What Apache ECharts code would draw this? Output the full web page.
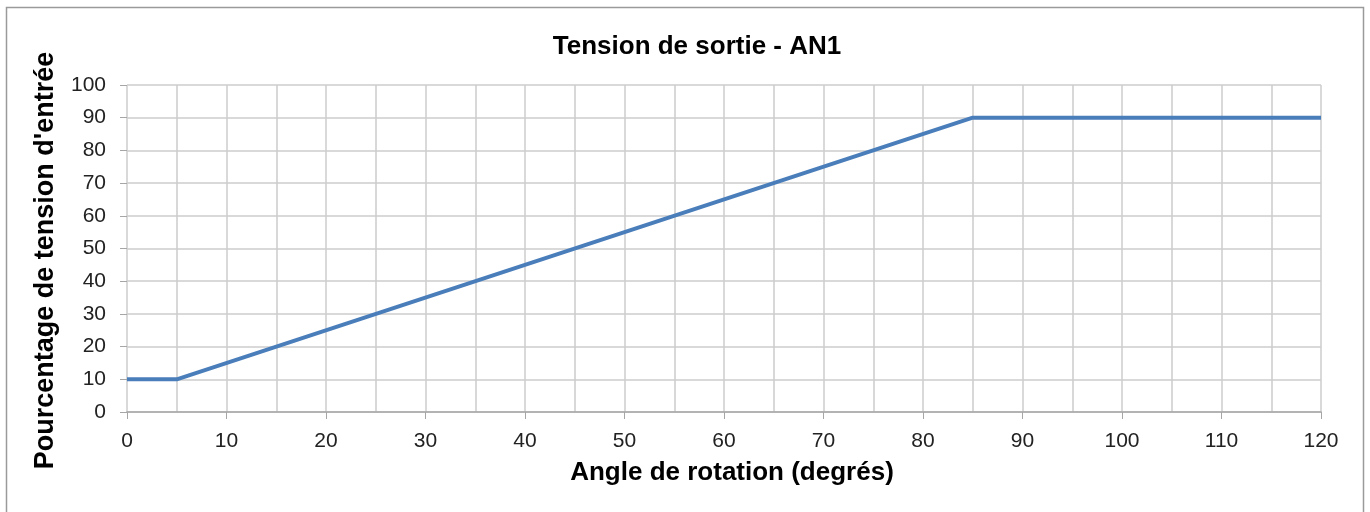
<!DOCTYPE html>
<html><head><meta charset="utf-8">
<script src="https://cdn.jsdelivr.net/npm/echarts@6/dist/echarts.min.js"></script>
<style>html,body{margin:0;padding:0;background:#fff}#c{width:1370px;height:512px}</style>
</head><body><div id="c"></div>
<script>
var angles = [0, 5, 85, 120];
var percents = [10, 10, 90, 90];
var titleText = 'Tension de sortie - AN1';
var xName = 'Angle de rotation (degrés)';
var yName = "Pourcentage de tension d'entrée";

var chart = echarts.init(document.getElementById('c'));
var font = '"Liberation Sans", Arial, sans-serif';
chart.setOption({
  animation: false,
  backgroundColor: '#fff',
  graphic: [{type:'rect', shape:{x:6.5,y:7.5,width:1357,height:520}, style:{fill:'none', stroke:'#9a9a9a', lineWidth:1.5}, silent:true}],
  title: {text: titleText, left: 692, top: 29, textAlign: 'center',
    textStyle:{fontFamily:font, fontSize:26, fontWeight:'bold', color:'#000'}},
  grid: {left:127, right:49, top:85, bottom:100, containLabel:false},
  xAxis: {type:'value', min:0, max:120, interval:10, splitNumber:12,
    name:xName, nameLocation:'middle', nameGap:48,
    nameTextStyle:{fontFamily:font, fontSize:26, fontWeight:'bold', color:'#000', padding:[0,0,0,16]},
    axisLine:{show:true, lineStyle:{color:'#a6a6a6', width:1.5}},
    axisTick:{show:true, length:7, inside:false, lineStyle:{color:'#a6a6a6'}},
    axisLabel:{fontFamily:font, fontSize:21, color:'#222', margin:19},
    splitLine:{show:true, lineStyle:{color:'#cccccc', width:1.5}},
    minorTick:{show:false, splitNumber:2},
    minorSplitLine:{show:true, lineStyle:{color:'#cccccc', width:1.5}}
  },
  yAxis: {type:'value', min:0, max:100, interval:10,
    name:yName, nameLocation:'middle', nameGap:68,
    nameTextStyle:{fontFamily:font, fontSize:27, fontWeight:'bold', color:'#000', padding:[0,0,0,-24]},
    axisLine:{show:false},
    axisTick:{show:true, length:7, lineStyle:{color:'#a6a6a6'}},
    axisLabel:{fontFamily:font, fontSize:21, color:'#222', margin:21},
    splitLine:{show:true, lineStyle:{color:'#cccccc', width:1.5}}
  },
  series: [{type:'line', data: angles.map(function(a,i){return [a, percents[i]];}),
    showSymbol:false, symbol:'none', lineStyle:{color:'#4a7ebb', width:4}, itemStyle:{color:'#4a7ebb'}}]
});
</script></body></html>
